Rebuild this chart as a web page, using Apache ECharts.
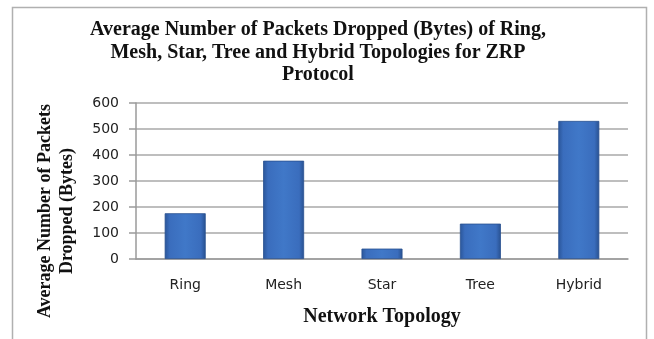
<!DOCTYPE html>
<html>
<head>
<meta charset="utf-8">
<script src="https://cdn.jsdelivr.net/npm/echarts@6/dist/echarts.min.js"></script>
<style>
  html, body { margin: 0; padding: 0; background: #ffffff; }
  #chart { width: 654px; height: 339px; }
</style>
</head>
<body>
<div id="chart"></div>
<script>
const titleText = "Average Number of Packets Dropped (Bytes) of Ring,\nMesh, Star, Tree and Hybrid Topologies for ZRP\nProtocol";
const categories = ["Ring", "Mesh", "Star", "Tree", "Hybrid"];
const packetsDropped = [176, 378, 40, 136, 531];
const yAxisTitle = "Average Number of Packets\nDropped (Bytes)";
const xAxisTitle = "Network Topology";

const chart = echarts.init(document.getElementById('chart'), null, { renderer: 'canvas' });

const barGradient = new echarts.graphic.LinearGradient(0, 0, 1, 0, [
  { offset: 0, color: '#2a5598' },
  { offset: 0.12, color: '#3a6dbd' },
  { offset: 0.5, color: '#4078c8' },
  { offset: 0.88, color: '#3a6dbd' },
  { offset: 1, color: '#28508f' }
]);

chart.setOption({
  backgroundColor: '#ffffff',
  animation: false,
  title: {
    text: titleText,
    left: 318,
    top: 19,
    padding: 0,
    textAlign: 'center',
    textStyle: {
      fontFamily: 'Liberation Serif',
      fontWeight: 'bold',
      fontSize: 20,
      lineHeight: 22.5,
      color: '#111111'
    }
  },
  graphic: [
    {
      type: 'rect',
      shape: { x: 12.5, y: 7.5, width: 634, height: 345 },
      style: { fill: null, stroke: '#b0b0b0', lineWidth: 1.5 },
      silent: true,
      z: -1
    },
    {
      type: 'text',
      x: 56,
      y: 211,
      rotation: Math.PI / 2,
      style: {
        text: yAxisTitle,
        align: 'center',
        verticalAlign: 'middle',
        fontFamily: 'Liberation Serif',
        fontWeight: 'bold',
        fontSize: 18,
        lineHeight: 22,
        fill: '#111111'
      }
    }
  ],
  grid: {
    left: 136,
    right: 26,
    top: 103,
    bottom: 80,
    containLabel: false
  },
  xAxis: {
    type: 'category',
    data: categories,
    name: xAxisTitle,
    nameLocation: 'middle',
    nameGap: 48,
    nameTextStyle: {
      fontFamily: 'Liberation Serif',
      fontWeight: 'bold',
      fontSize: 20,
      color: '#111111'
    },
    axisLine: { show: true, lineStyle: { color: '#9a9a9a', width: 1.5 } },
    axisTick: { show: false },
    axisLabel: {
      margin: 19,
      fontFamily: 'DejaVu Sans',
      fontSize: 14,
      color: '#222222'
    }
  },
  yAxis: {
    type: 'value',
    min: 0,
    max: 600,
    interval: 100,
    axisLine: { show: true, lineStyle: { color: '#9a9a9a', width: 1.5 } },
    axisTick: { show: true, length: 7, lineStyle: { color: '#9a9a9a', width: 1.5 } },
    splitLine: { show: true, lineStyle: { color: '#a8a8a8', width: 1.5 } },
    axisLabel: {
      margin: 17,
      fontFamily: 'DejaVu Sans',
      fontSize: 14,
      color: '#222222'
    }
  },
  series: [
    {
      type: 'bar',
      data: packetsDropped,
      barWidth: 41,
      itemStyle: {
        color: barGradient,
        borderColor: '#2a5290',
        borderWidth: 0.8
      }
    }
  ]
});
</script>
</body>
</html>
